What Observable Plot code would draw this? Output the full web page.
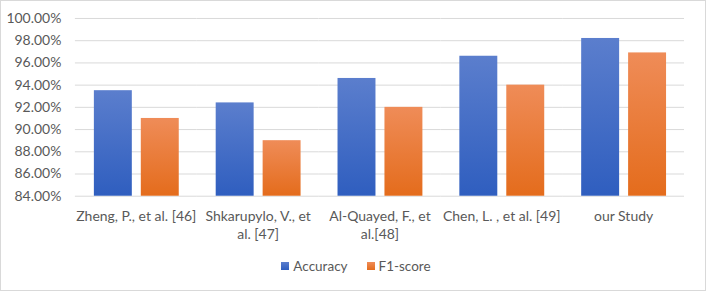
<!DOCTYPE html>
<html>
<head>
<meta charset="utf-8">
<script src="https://cdn.jsdelivr.net/npm/d3@7"></script>
<script src="https://cdn.jsdelivr.net/npm/@observablehq/plot@0.6"></script>
<style>
  html, body { margin: 0; padding: 0; background: #fff; }
  #frame { position: relative; width: 704px; height: 289px; border: 1px solid #d9d9d9; overflow: hidden; font-family: Lato, "Open Sans", sans-serif; }
  #chart { position: absolute; left: -1px; top: -1px; }
  #legend { position: absolute; left: 0; top: 257px; width: 704px; display: flex; justify-content: center; gap: 19px; font-size: 13.5px; color: #595959; padding-left: 6px; box-sizing: border-box; }
  #legend span.item { display: inline-flex; align-items: center; }
  #legend span.sw { display: inline-block; width: 8px; height: 8px; margin-right: 4px; }
</style>
</head>
<body>
<div id="frame">
  <div id="chart"></div>
  <div id="legend"></div>
</div>
<script>
const categories = ["Zheng, P., et al. [46]", "Shkarupylo, V., et al. [47]", "Al-Quayed, F., et al.[48]", "Chen, L. , et al. [49]", "our Study"];
const tickLabels = ["Zheng, P., et al. [46]", "Shkarupylo, V., et\nal. [47]", "Al-Quayed, F., et\nal.[48]", "Chen, L. , et al. [49]", "our Study"];
const series = ["Accuracy", "F1-score"];
const accuracy = [93.5, 92.4, 94.6, 96.6, 98.2];
const f1score = [91.0, 89.0, 92.0, 94.0, 96.9];
const yTicks = [84, 86, 88, 90, 92, 94, 96, 98, 100];
const gradients = {
  "Accuracy": ["#5b7ecd", "#2f5ebf"],
  "F1-score": ["#ef8c58", "#e46c1c"]
};

const data = [];
categories.forEach((c, i) => {
  data.push({category: c, series: "Accuracy", value: accuracy[i]});
  data.push({category: c, series: "F1-score", value: f1score[i]});
});
const labelOf = new Map(categories.map((c, i) => [c, tickLabels[i]]));
const gradId = s => "grad-" + s.replace(/[^A-Za-z0-9]/g, "");

const plot = Plot.plot({
  width: 706,
  height: 252,
  marginTop: 18,
  marginBottom: 56,
  marginLeft: 74,
  marginRight: 20,
  style: { fontFamily: "Lato, 'Open Sans', sans-serif", fontSize: "14px", color: "#595959", background: "transparent" },
  fx: { domain: categories, padding: 0, label: null, axis: null },
  x: { domain: series, paddingInner: 0.2, paddingOuter: 0.39, axis: null },
  y: { domain: [84, 100], label: null },
  marks: [
    Plot.gridY(yTicks, { stroke: "#d9d9d9", strokeOpacity: 1, strokeWidth: 1, facet: "exclude" }),
    ...series.map(s => Plot.barY(data.filter(d => d.series === s), {
      fx: "category", x: "series", y1: 84, y2: "value", fill: `url(#${gradId(s)})`
    })),
    Plot.axisY(yTicks, { tickSize: 0, tickPadding: 14, tickFormat: d => d.toFixed(2) + "%", fontSize: 14, fill: "#595959" }),
    Plot.axisFx({ anchor: "bottom", tickSize: 0, tickPadding: 11, tickFormat: d => labelOf.get(d), fontSize: 14, fill: "#595959", lineHeight: 1.35, label: null })
  ]
});

// gradient definitions
const svgNS = "http://www.w3.org/2000/svg";
const defs = document.createElementNS(svgNS, "defs");
for (const s of series) {
  const g = document.createElementNS(svgNS, "linearGradient");
  g.setAttribute("id", gradId(s));
  g.setAttribute("x1", "0"); g.setAttribute("y1", "0");
  g.setAttribute("x2", "0"); g.setAttribute("y2", "1");
  [[0, gradients[s][0]], [1, gradients[s][1]]].forEach(([o, c]) => {
    const st = document.createElementNS(svgNS, "stop");
    st.setAttribute("offset", o);
    st.setAttribute("stop-color", c);
    g.appendChild(st);
  });
  defs.appendChild(g);
}
plot.insertBefore(defs, plot.firstChild);
document.getElementById("chart").appendChild(plot);

const legend = document.getElementById("legend");
series.forEach(s => {
  const item = document.createElement("span");
  item.className = "item";
  const sw = document.createElement("span");
  sw.className = "sw";
  sw.style.background = `linear-gradient(${gradients[s][0]}, ${gradients[s][1]})`;
  item.appendChild(sw);
  item.appendChild(document.createTextNode(s));
  legend.appendChild(item);
});
</script>
</body>
</html>
